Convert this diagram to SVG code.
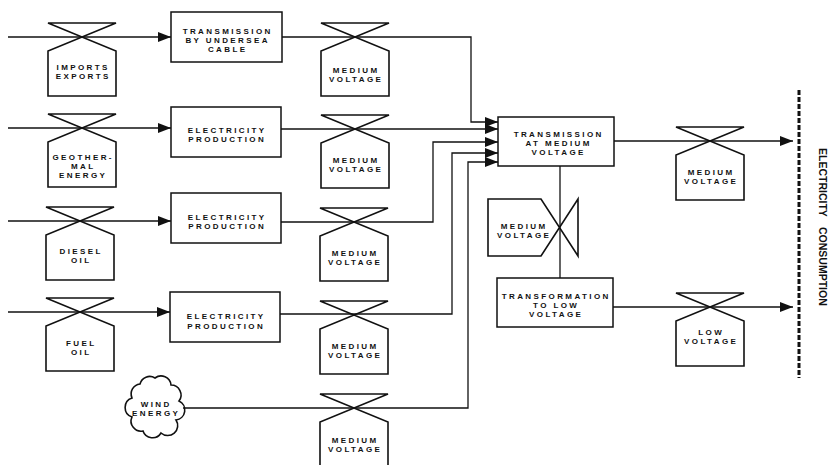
<svg xmlns="http://www.w3.org/2000/svg" xmlns:xlink="http://www.w3.org/1999/xlink" width="829" height="465" viewBox="0 0 829 465">
<style>
.shape{fill:none;stroke:#111;stroke-width:1.6;stroke-linejoin:miter}
.box{fill:#fff;stroke:#111;stroke-width:1.5}
.con{fill:none;stroke:#111;stroke-width:1.3}
.lbl{font-family:"Liberation Sans",Arial,sans-serif;font-weight:bold;font-size:8px;letter-spacing:2.4px;fill:#111;text-anchor:middle}
.side{font-family:"Liberation Sans",Arial,sans-serif;font-weight:bold;font-size:10.5px;fill:#111}
</style>
<defs>
<path id="storage" class="shape" d="M-34,-14 H34 L-34,14 V59 H34 V14 Z"/>
<marker id="arr" markerUnits="userSpaceOnUse" markerWidth="14" markerHeight="10" refX="13" refY="5" orient="auto">
<path d="M0,0 L13,5 L0,10 Z" fill="#111"/>
</marker>
</defs>
<rect width="829" height="465" fill="#fff"/>

<g id="connectors">
<path class="con" d="M8,37 H171" marker-end="url(#arr)"/>
<path class="con" d="M8,128 H171" marker-end="url(#arr)"/>
<path class="con" d="M8,221 H171" marker-end="url(#arr)"/>
<path class="con" d="M8,312 H170" marker-end="url(#arr)"/>
<path class="con" d="M282,37 H471 V122 H498" marker-end="url(#arr)"/>
<path class="con" d="M281,129 H498" marker-end="url(#arr)"/>
<path class="con" d="M281,222 H433 V142 H498" marker-end="url(#arr)"/>
<path class="con" d="M280,314 H452 V153 H498" marker-end="url(#arr)"/>
<path class="con" d="M183,408 H468 V162 H498" marker-end="url(#arr)"/>
<path class="con" d="M560,166 V278"/>
<path class="con" d="M614,141 H793" marker-end="url(#arr)"/>
<path class="con" d="M613,307 H793" marker-end="url(#arr)"/>
</g>

<g id="imports-exports">
<use xlink:href="#storage" href="#storage" x="82" y="37"/>
<text class="lbl" x="83.2" y="69.5">IMPORTS</text>
<text class="lbl" x="83.2" y="78.5">EXPORTS</text>
</g>
<g id="geothermal">
<use xlink:href="#storage" href="#storage" x="82" y="128"/>
<text class="lbl" x="83.2" y="160">GEOTHER-</text>
<text class="lbl" x="83.2" y="169">MAL</text>
<text class="lbl" x="83.2" y="178">ENERGY</text>
</g>
<g id="diesel-oil">
<use xlink:href="#storage" href="#storage" x="80" y="221"/>
<text class="lbl" x="81.2" y="253.5">DIESEL</text>
<text class="lbl" x="81.2" y="262.5">OIL</text>
</g>
<g id="fuel-oil">
<use xlink:href="#storage" href="#storage" x="80" y="312"/>
<text class="lbl" x="81.2" y="345.5">FUEL</text>
<text class="lbl" x="81.2" y="354.5">OIL</text>
</g>
<g id="wind-energy">
<path class="shape" d="M155,378 A10,10 0 0 1 171,385 A10,10 0 0 1 179,401 A10,10 0 0 1 176,420 A10,10 0 0 1 161,433 A10,10 0 0 1 143,431 A10,10 0 0 1 132,417 A10,10 0 0 1 132,398 A10,10 0 0 1 140,384 A10,10 0 0 1 155,378 Z" fill="#fff"/>
<text class="lbl" x="156.2" y="406.5">WIND</text>
<text class="lbl" x="156.2" y="416">ENERGY</text>
</g>

<g id="transmission-undersea">
<rect class="box" x="171" y="12" width="111" height="50"/>
<text class="lbl" x="227.7" y="34">TRANSMISSION</text>
<text class="lbl" x="227.7" y="43">BY UNDERSEA</text>
<text class="lbl" x="227.7" y="52">CABLE</text>
</g>
<g id="production-geothermal">
<rect class="box" x="171" y="107" width="110" height="50"/>
<text class="lbl" x="227.2" y="133">ELECTRICITY</text>
<text class="lbl" x="227.2" y="142">PRODUCTION</text>
</g>
<g id="production-diesel">
<rect class="box" x="171" y="193" width="110" height="50"/>
<text class="lbl" x="227.2" y="219.5">ELECTRICITY</text>
<text class="lbl" x="227.2" y="229">PRODUCTION</text>
</g>
<g id="production-fuel">
<rect class="box" x="170" y="292" width="110" height="50"/>
<text class="lbl" x="226.2" y="319">ELECTRICITY</text>
<text class="lbl" x="226.2" y="328.5">PRODUCTION</text>
</g>

<g id="mv-1">
<use xlink:href="#storage" href="#storage" x="355" y="37"/>
<text class="lbl" x="356.2" y="72.5">MEDIUM</text>
<text class="lbl" x="356.2" y="81.5">VOLTAGE</text>
</g>
<g id="mv-2">
<use xlink:href="#storage" href="#storage" x="355" y="129"/>
<text class="lbl" x="356.2" y="162.5">MEDIUM</text>
<text class="lbl" x="356.2" y="171.5">VOLTAGE</text>
</g>
<g id="mv-3">
<use xlink:href="#storage" href="#storage" x="354" y="222"/>
<text class="lbl" x="355.2" y="255.5">MEDIUM</text>
<text class="lbl" x="355.2" y="264.5">VOLTAGE</text>
</g>
<g id="mv-4">
<use xlink:href="#storage" href="#storage" x="354" y="315"/>
<text class="lbl" x="355.2" y="348.5">MEDIUM</text>
<text class="lbl" x="355.2" y="357.5">VOLTAGE</text>
</g>
<g id="mv-5">
<use xlink:href="#storage" href="#storage" x="354" y="408"/>
<text class="lbl" x="355.2" y="442.5">MEDIUM</text>
<text class="lbl" x="355.2" y="451.5">VOLTAGE</text>
</g>

<g id="transmission-mv">
<rect class="box" x="498" y="117" width="116" height="49"/>
<text class="lbl" x="558.7" y="137">TRANSMISSION</text>
<text class="lbl" x="558.7" y="146">AT MEDIUM</text>
<text class="lbl" x="558.7" y="155">VOLTAGE</text>
</g>
<g id="mv-side">
<path class="shape" d="M578,199 V256 L541,199 H488 V256 H541 Z"/>
<text class="lbl" x="524.2" y="228.5">MEDIUM</text>
<text class="lbl" x="524.2" y="237.5">VOLTAGE</text>
</g>
<g id="transformation-lv">
<rect class="box" x="497" y="278" width="116" height="49"/>
<text class="lbl" x="556.2" y="299">TRANSFORMATION</text>
<text class="lbl" x="556.2" y="308">TO LOW</text>
<text class="lbl" x="556.2" y="317">VOLTAGE</text>
</g>
<g id="mv-out">
<use xlink:href="#storage" href="#storage" x="710" y="141"/>
<text class="lbl" x="711.2" y="174.5">MEDIUM</text>
<text class="lbl" x="711.2" y="183.5">VOLTAGE</text>
</g>
<g id="lv-out">
<use xlink:href="#storage" href="#storage" x="710" y="307"/>
<text class="lbl" x="711.2" y="334.5">LOW</text>
<text class="lbl" x="711.2" y="343.5">VOLTAGE</text>
</g>

<g id="electricity-consumption">
<path d="M799,90 V378" fill="none" stroke="#111" stroke-width="3" stroke-dasharray="5,2"/>
<text class="side" transform="translate(818.5,148) rotate(90)">ELECTRICITY</text>
<text class="side" transform="translate(818.5,227) rotate(90)">CONSUMPTION</text>
</g>
</svg>
